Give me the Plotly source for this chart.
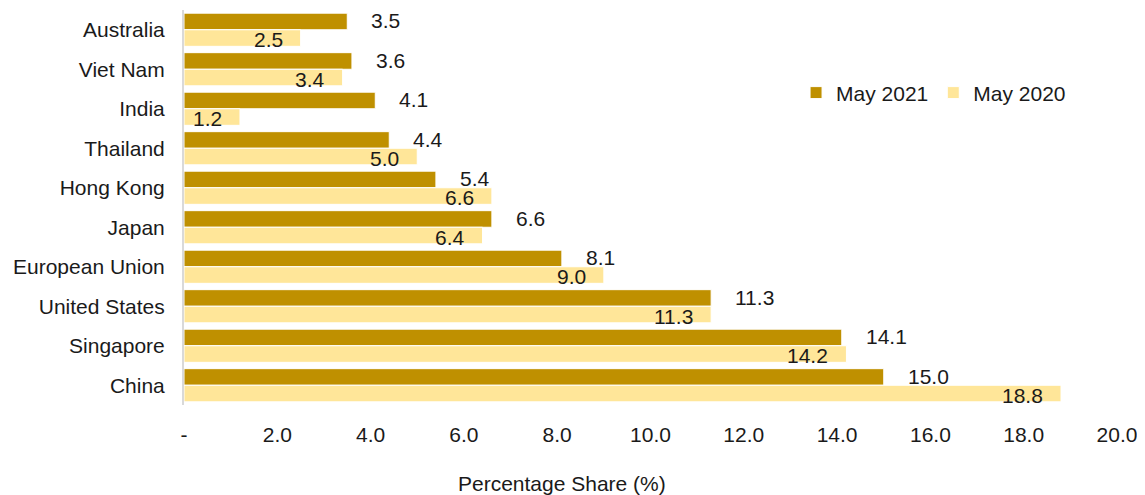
import plotly.graph_objects as go

categories = ["Australia", "Viet Nam", "India", "Thailand", "Hong Kong", "Japan",
              "European Union", "United States", "Singapore", "China"]
may2021 = [3.5, 3.6, 4.1, 4.4, 5.4, 6.6, 8.1, 11.3, 14.1, 15.0]
may2020 = [2.5, 3.4, 1.2, 5.0, 6.6, 6.4, 9.0, 11.3, 14.2, 18.8]
tick_vals = [0, 2, 4, 6, 8, 10, 12, 14, 16, 18, 20]
tick_text = ["-", "2.0", "4.0", "6.0", "8.0", "10.0", "12.0", "14.0", "16.0", "18.0", "20.0"]

DARK = "#BF9000"
LIGHT = "#FFE699"
FONT = "Liberation Sans, Arial, sans-serif"
FS = 21

fig = go.Figure()
fig.add_trace(go.Bar(y=categories, x=may2021, orientation="h", name="May 2021",
                     marker=dict(color=DARK, line=dict(color="white", width=1))))
fig.add_trace(go.Bar(y=categories, x=may2020, orientation="h", name="May 2020",
                     marker=dict(color=LIGHT, line=dict(color="white", width=1))))

annotations = []
for c, v in zip(categories, may2021):
    annotations.append(dict(x=v, y=c, xref="x", yref="y", text=f"{v:.1f}", showarrow=False,
                            xanchor="left", yanchor="middle", xshift=22, yshift=9,
                            font=dict(size=FS, color="#1a1a1a", family=FONT)))
for c, v in zip(categories, may2020):
    annotations.append(dict(x=v, y=c, xref="x", yref="y", text=f"{v:.1f}", showarrow=False,
                            xanchor="right", yanchor="middle", xshift=-16, yshift=-10,
                            font=dict(size=FS, color="#1a1a1a", family=FONT)))
annotations.append(dict(x=0.405, y=0, xref="paper", yref="paper", text="Percentage Share (%)",
                        showarrow=False, xanchor="center", yanchor="middle", yshift=-78,
                        font=dict(size=FS, color="#1a1a1a", family=FONT)))

fig.update_layout(
    width=1137, height=487,
    margin=dict(l=176, r=28, t=1.5, b=89.5, autoexpand=False),
    paper_bgcolor="white", plot_bgcolor="white",
    barmode="group", bargap=0.16, bargroupgap=0.0,
    font=dict(family=FONT, size=FS, color="#1a1a1a"),
    showlegend=True,
    legend=dict(orientation="h", x=0.656, y=0.79, xanchor="left", yanchor="middle",
                font=dict(size=FS, family=FONT), bgcolor="rgba(0,0,0,0)",
                itemwidth=30, traceorder="normal"),
    annotations=annotations,
)
fig.update_xaxes(range=[0, 20], tickvals=tick_vals, ticktext=tick_text, showgrid=False,
                 zeroline=False, showline=False, ticks="", ticklabelstandoff=15,
                 tickfont=dict(size=FS, family=FONT), automargin=False)
fig.update_yaxes(range=[len(categories) - 0.5, -0.5], showgrid=False, showline=True,
                 linecolor="#D9D9D9", linewidth=2, ticks="", ticklabelstandoff=13,
                 tickfont=dict(size=FS, family=FONT), automargin=False)

fig.write_html("out.html")
